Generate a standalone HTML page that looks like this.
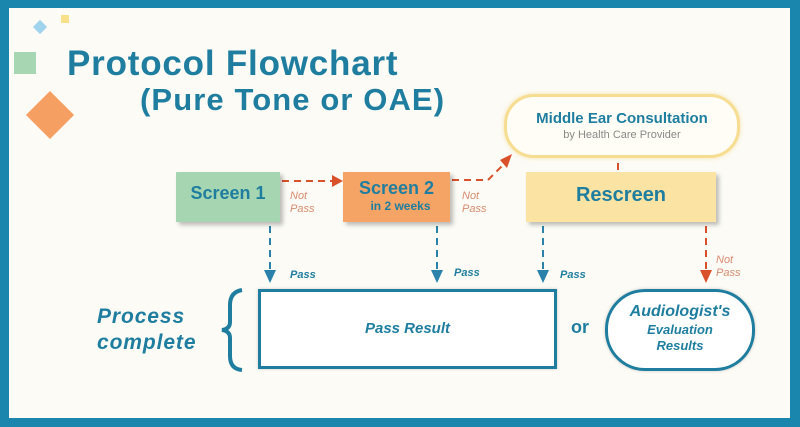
<!DOCTYPE html>
<html><head><meta charset="utf-8"><style>
body{margin:0;width:800px;height:427px;overflow:hidden;background:#1b86ad;font-family:"Liberation Sans",sans-serif}
.in{position:absolute;left:9px;top:8px;width:781px;height:410px;background:#fcfbf5}
.t{position:absolute;color:#1f7ea0;font-weight:bold;white-space:nowrap}
.box{position:absolute;box-shadow:3px 3px 4px rgba(0,0,0,.25);text-align:center;color:#1f7ea0;font-weight:bold}
.lab{position:absolute;font-style:italic;font-size:11px;line-height:13px}
</style></head><body>
<div class="in"></div>
<svg width="800" height="427" style="position:absolute;left:0;top:0">
<rect x="35" y="22" width="10" height="10" fill="#9fd3ee" transform="rotate(45 40 27)"/>
<rect x="61" y="15" width="8" height="8" fill="#fbe08a"/>
<rect x="14" y="52" width="22" height="22" fill="#a6d7b2"/>
<rect x="33" y="98" width="34" height="34" fill="#f5a062" transform="rotate(45 50 115)"/>
<g fill="none" stroke-width="2" stroke-dasharray="7,5">
<line x1="282" y1="181" x2="332" y2="181" stroke="#d9512a"/>
<polyline points="452,180 488,180 502,166" stroke="#d9512a"/>
<line x1="270" y1="226" x2="270" y2="270" stroke="#2a82ab"/>
<line x1="437" y1="226" x2="437" y2="270" stroke="#2a82ab"/>
<line x1="543" y1="226" x2="543" y2="270" stroke="#2a82ab"/>
<line x1="706" y1="226" x2="706" y2="270" stroke="#d9512a"/>
<line x1="618" y1="163" x2="618" y2="170" stroke="#d9512a"/>
</g>
<polygon points="332,175 343,181 332,187" fill="#d9512a"/>
<polygon points="500,160 512,154 507,168" fill="#d9512a"/>
<polygon points="264,270 276,270 270,283" fill="#2a82ab"/>
<polygon points="431,270 443,270 437,283" fill="#2a82ab"/>
<polygon points="537,270 549,270 543,283" fill="#2a82ab"/>
<polygon points="700,270 712,270 706,283" fill="#d9512a"/>
<path d="M242 290 Q230 292 230 305 L230 322 Q230 329 222 330 Q230 331 230 338 L230 356 Q230 369 242 370" fill="none" stroke="#1f7ea0" stroke-width="4"/>
</svg>
<div class="t" style="left:67px;top:44px;font-size:35px;letter-spacing:0.8px">Protocol Flowchart</div>
<div class="t" style="left:140px;top:82px;font-size:31px;letter-spacing:1.1px">(Pure Tone or OAE)</div>
<div class="box" style="left:504px;top:94px;width:230px;height:58px;border:3px solid #f7dd92;border-radius:30px;background:#fffdf6;box-shadow:0 0 4px rgba(240,210,120,.6)"><div style="font-size:15px;margin-top:13px">Middle Ear Consultation</div><div style="font-size:11px;color:#8a8a86;font-weight:normal;margin-top:2px">by Health Care Provider</div></div>
<div class="box" style="left:176px;top:172px;width:104px;height:50px;background:#a6d6b1;font-size:18px;line-height:42px">Screen 1</div>
<div class="box" style="left:343px;top:172px;width:107px;height:50px;background:#f5a466;font-size:18px"><div style="margin-top:6px">Screen 2</div><div style="font-size:12px;margin-top:0px;padding-left:8px">in 2 weeks</div></div>
<div class="box" style="left:526px;top:172px;width:190px;height:50px;background:#fbe3a3;font-size:20px;line-height:46px">Rescreen</div>
<div class="lab" style="left:290px;top:190px;color:#d98b6e">Not<br>Pass</div>
<div class="lab" style="left:462px;top:190px;color:#d98b6e">Not<br>Pass</div>
<div class="lab" style="left:716px;top:254px;color:#d98b6e">Not<br>Pass</div>
<div class="lab" style="left:290px;top:269px;color:#1f7ea0;font-weight:bold">Pass</div>
<div class="lab" style="left:454px;top:267px;color:#1f7ea0;font-weight:bold">Pass</div>
<div class="lab" style="left:560px;top:269px;color:#1f7ea0;font-weight:bold">Pass</div>
<div class="box" style="left:258px;top:289px;width:293px;height:74px;border:3px solid #1f7ea0;background:#fff;box-shadow:0 0 3px rgba(0,0,0,.2);font-style:italic;font-size:15px;line-height:74px">Pass Result</div>
<div class="t" style="left:571px;top:317px;font-size:18px">or</div>
<div class="box" style="left:605px;top:289px;width:144px;height:76px;border:3px solid #1f7ea0;border-radius:40px;background:#fff;box-shadow:0 0 3px rgba(0,0,0,.2);font-style:italic"><div style="font-size:16px;margin-top:11px">Audiologist's</div><div style="font-size:13px;margin-top:1px">Evaluation</div><div style="font-size:13px;margin-top:1px">Results</div></div>
<div class="t" style="left:97px;top:304px;font-size:21px;font-style:italic;line-height:26px;letter-spacing:0.9px">Process<br>complete</div>
</body></html>
